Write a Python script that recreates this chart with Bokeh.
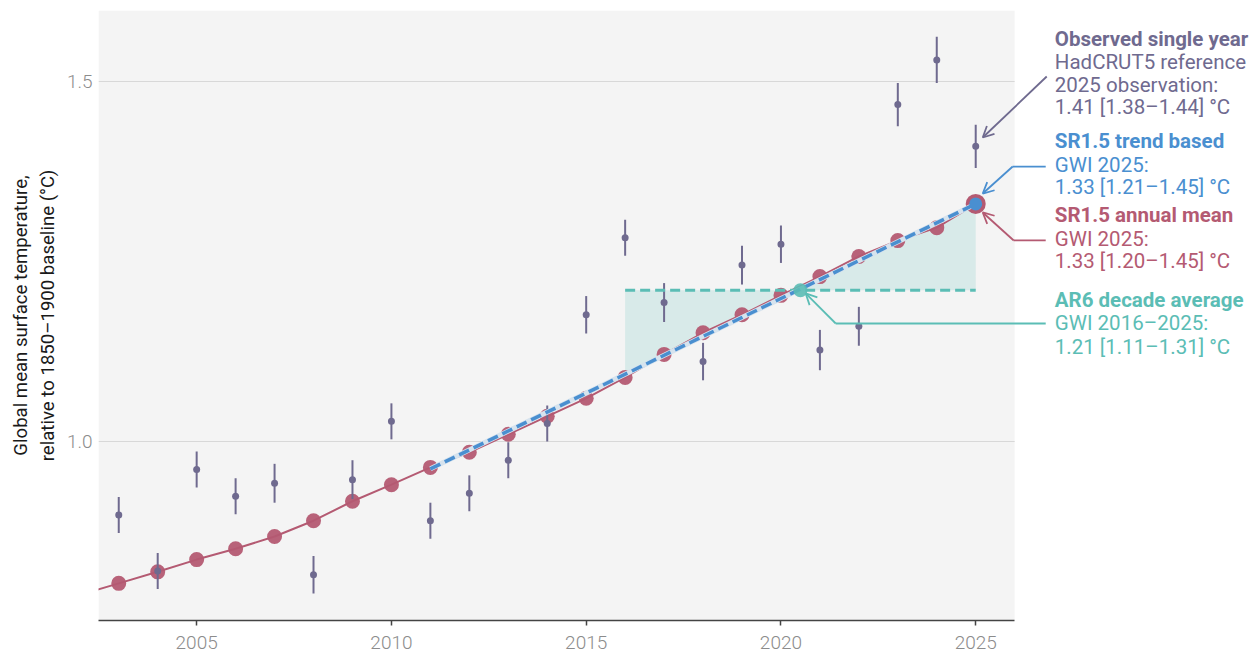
from bokeh.plotting import figure
from bokeh.models import Label, Arrow, OpenHead, FixedTicker, PrintfTickFormatter
from bokeh.embed import file_html
from bokeh.resources import INLINE

# ---------------- data ----------------
gwi_years = [2002, 2003, 2004, 2005, 2006, 2007, 2008, 2009, 2010, 2011, 2012, 2013,
             2014, 2015, 2016, 2017, 2018, 2019, 2020, 2021, 2022, 2023, 2024, 2025]
gwi_annual_mean = [0.787, 0.803, 0.819, 0.836, 0.851, 0.868, 0.890, 0.917, 0.940, 0.964,
                   0.985, 1.010, 1.035, 1.060, 1.089, 1.121, 1.151, 1.176, 1.203, 1.229,
                   1.257, 1.279, 1.297, 1.330]
obs_years = [2003, 2004, 2005, 2006, 2007, 2008, 2009, 2010, 2011, 2012, 2013, 2014,
             2015, 2016, 2017, 2018, 2019, 2020, 2021, 2022, 2023, 2024, 2025]
obs_hadcrut5 = [0.898, 0.820, 0.961, 0.924, 0.942, 0.815, 0.947, 1.028, 0.890, 0.928,
                0.974, 1.025, 1.176, 1.283, 1.193, 1.111, 1.245, 1.274, 1.127, 1.160,
                1.468, 1.530, 1.410]
obs_err = [0.025, 0.025, 0.025, 0.025, 0.027, 0.026, 0.027, 0.025, 0.025, 0.025,
           0.025, 0.025, 0.026, 0.025, 0.027, 0.026, 0.027, 0.026, 0.028, 0.027,
           0.030, 0.032, 0.030]
trend_years = [2011, 2025]
trend_vals = [0.962, 1.330]
ar6_years = [2016, 2025]
ar6_decade_avg = 1.21
ar6_cross_year = 2020.5
x_ticks = [2005, 2010, 2015, 2020, 2025]
y_ticks = [1.0, 1.5]

PURPLE = "#6f6a8f"
RED = "#b45a72"
BLUE = "#4a8fd0"
TEAL = "#5bbdb5"
FONT = "Roboto"

X0, X1 = 2002.48, 2026.0      # plot panel extent
Y0, Y1 = 0.7514, 1.5986

p = figure(width=1251, height=655, x_range=(X0, 2032.08), y_range=(Y0, Y1),
           output_backend="svg", toolbar_location=None,
           background_fill_color="white", border_fill_color="white",
           outline_line_color=None, min_border_left=98, min_border_right=0,
           min_border_top=10, min_border_bottom=35)

# plot panel background + grid
p.quad(left=[X0], right=[X1], bottom=[Y0], top=[Y1], fill_color="#f4f4f4", line_color=None)
p.segment(x0=[X0] * len(y_ticks), y0=y_ticks, x1=[X1] * len(y_ticks), y1=y_ticks,
          line_color="#d8d8d8", line_width=1)

# axes
p.xgrid.grid_line_color = None
p.ygrid.grid_line_color = None
p.xaxis.ticker = FixedTicker(ticks=x_ticks)
p.yaxis.ticker = FixedTicker(ticks=y_ticks)
p.yaxis.formatter = PrintfTickFormatter(format="%.1f")
p.xaxis.bounds = (X0, X1)
p.xaxis.axis_line_color = "#444444"
p.xaxis.axis_line_width = 1.5
p.xaxis.major_tick_line_color = "#444444"
p.xaxis.major_tick_line_width = 1.5
p.xaxis.major_tick_out = 5
p.xaxis.major_tick_in = 0
p.xaxis.minor_tick_line_color = None
p.xaxis.major_label_standoff = 10
p.yaxis.axis_line_color = None
p.yaxis.major_tick_line_color = None
p.yaxis.minor_tick_line_color = None
p.yaxis.major_tick_out = 0
p.yaxis.major_tick_in = 0
p.yaxis.major_label_standoff = 6
for ax in (p.xaxis, p.yaxis):
    ax.major_label_text_font = "Roboto Light"
    ax.major_label_text_font_size = "19px"
    ax.major_label_text_color = "#8c8c8c"
p.yaxis.axis_label = "Global mean surface temperature,\nrelative to 1850\u20131900 baseline (\u00b0C)"
p.yaxis.axis_label_text_font = FONT
p.yaxis.axis_label_text_font_style = "normal"
p.yaxis.axis_label_text_font_size = "18.6px"
p.yaxis.axis_label_text_color = "#1a1a1a"
p.yaxis.axis_label_standoff = 5

# AR6 shaded area between decade average and annual mean
sel = [i for i, y in enumerate(gwi_years) if ar6_years[0] <= y <= ar6_years[1]]
p.varea(x=[gwi_years[i] for i in sel], y1=[ar6_decade_avg] * len(sel),
        y2=[gwi_annual_mean[i] for i in sel], fill_color=TEAL, fill_alpha=0.18)

# annual mean line + dots
p.line(gwi_years, gwi_annual_mean, line_color=RED, line_width=2)
p.scatter(gwi_years[:-1], gwi_annual_mean[:-1], size=15, fill_color=RED, line_color=None, fill_alpha=0.95)
p.scatter(gwi_years[-1:], gwi_annual_mean[-1:], size=20, fill_color=RED, line_color=None)

# observations with error bars
p.segment(x0=obs_years, y0=[o - e for o, e in zip(obs_hadcrut5, obs_err)],
          x1=obs_years, y1=[o + e for o, e in zip(obs_hadcrut5, obs_err)],
          line_color=PURPLE, line_width=2)
p.scatter(obs_years, obs_hadcrut5, size=7, fill_color=PURPLE, line_color=None)

# AR6 decade average dashed line
p.line(ar6_years, [ar6_decade_avg] * 2, line_color=TEAL, line_width=3, line_dash="10 5")

# SR1.5 trend
p.line(trend_years, trend_vals, line_color="#d6e3ee", line_width=5)
p.line(trend_years, trend_vals, line_color=BLUE, line_width=3.5, line_dash="11 5")
p.scatter(trend_years[-1:], trend_vals[-1:], size=13, fill_color=BLUE, line_color=None)

# AR6 crossing marker
p.scatter([ar6_cross_year], [ar6_decade_avg], size=14, fill_color=TEAL, line_color=None, fill_alpha=0.9)

# leader lines
def seg(x0, y0, x1, y1, color, head):
    p.add_layout(Arrow(x_start=x0, y_start=y0, x_end=x1, y_end=y1,
                       line_color=color, line_width=1.8,
                       end=OpenHead(size=11, line_color=color, line_width=1.8) if head else None))

seg(2026.823, 1.5069, 2025.180, 1.4222, PURPLE, True)
seg(2026.797, 1.3819, 2025.950, 1.3819, BLUE, False)
seg(2025.950, 1.3819, 2025.180, 1.3444, BLUE, True)
seg(2026.797, 1.2792, 2025.976, 1.2792, RED, False)
seg(2025.976, 1.2792, 2025.180, 1.3181, RED, True)
seg(2026.797, 1.1639, 2021.406, 1.1639, TEAL, False)
seg(2021.406, 1.1639, 2020.635, 1.2056, TEAL, True)

# annotation texts
lx = 2027.03
texts = [
    ("Observed single year", 1.5597, PURPLE, "bold"),
    ("HadCRUT5 reference", 1.5264, PURPLE, "normal"),
    ("2025 observation:", 1.4958, PURPLE, "normal"),
    ("1.41 [1.38\u20131.44] \u00b0C", 1.4639, PURPLE, "normal"),
    ("SR1.5 trend based", 1.4167, BLUE, "bold"),
    ("GWI 2025:", 1.3847, BLUE, "normal"),
    ("1.33 [1.21\u20131.45] \u00b0C", 1.3528, BLUE, "normal"),
    ("SR1.5 annual mean", 1.3139, RED, "bold"),
    ("GWI 2025:", 1.2819, RED, "normal"),
    ("1.33 [1.20\u20131.45] \u00b0C", 1.2500, RED, "normal"),
    ("AR6 decade average", 1.1972, TEAL, "bold"),
    ("GWI 2016\u20132025:", 1.1639, TEAL, "normal"),
    ("1.21 [1.11\u20131.31] \u00b0C", 1.1319, TEAL, "normal"),
]
for t, y, c, st in texts:
    p.add_layout(Label(x=lx, y=y, text=t, text_color=c, text_font=FONT,
                       text_font_style=st, text_font_size="20.5px",
                       text_align="left", text_baseline="middle"))

open("out.html", "w").write(file_html(p, INLINE))
